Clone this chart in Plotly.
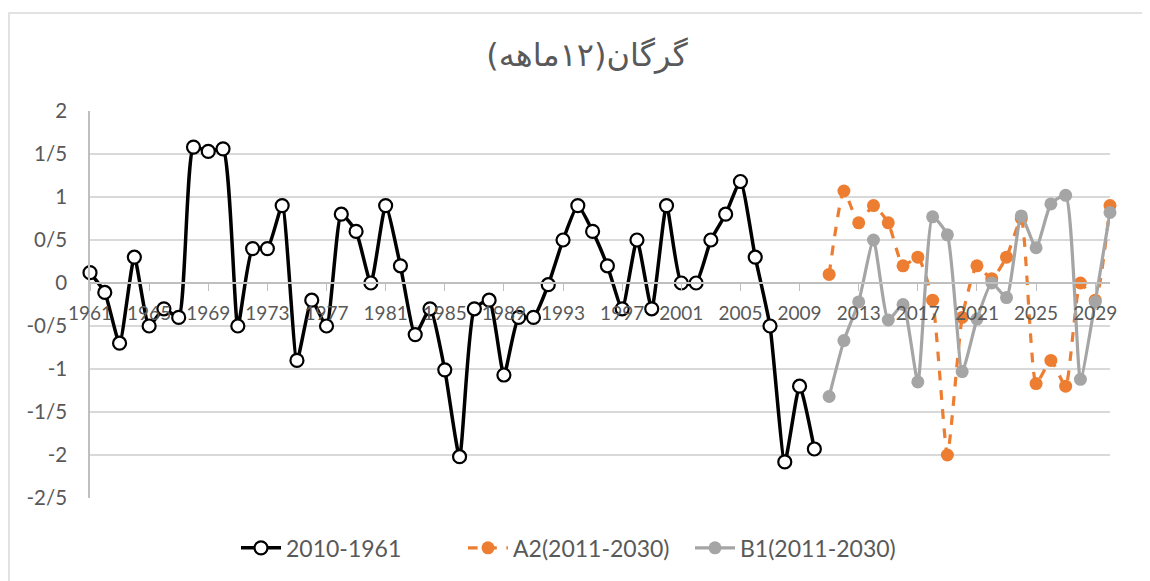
import plotly.graph_objects as go

# ---- data ----
years_obs = list(range(1961, 2011))
obs_vals = [0.12, -0.11, -0.7, 0.3, -0.5, -0.3, -0.4, 1.58, 1.53, 1.56,
            -0.5, 0.4, 0.4, 0.9, -0.9, -0.2, -0.5, 0.8, 0.6, 0.0,
            0.9, 0.2, -0.6, -0.3, -1.01, -2.02, -0.3, -0.2, -1.07, -0.4,
            -0.4, -0.02, 0.5, 0.9, 0.6, 0.2, -0.3, 0.5, -0.3, 0.9,
            0.0, 0.0, 0.5, 0.8, 1.18, 0.3, -0.5, -2.08, -1.2, -1.93]

years_fut = list(range(2011, 2031))
a2_vals = [0.1, 1.07, 0.7, 0.9, 0.7, 0.2, 0.3, -0.2, -2.0, -0.4,
           0.2, 0.05, 0.3, 0.75, -1.17, -0.9, -1.2, 0.0, -0.2, 0.9]
b1_vals = [-1.32, -0.67, -0.22, 0.5, -0.43, -0.25, -1.15, 0.77, 0.56, -1.03,
           -0.42, 0.0, -0.17, 0.78, 0.41, 0.92, 1.02, -1.12, -0.22, 0.82]

series_names = ["2010-1961", "A2(2011-2030)", "B1(2011-2030)"]
title_text = "گرگان(۱۲ماهه)\u200f"

y_tickvals = [-2.5, -2, -1.5, -1, -0.5, 0, 0.5, 1, 1.5, 2]
y_ticktext = ["-2/5", "-2", "-1/5", "-1", "-0/5", "0", "0/5", "1", "1/5", "2"]

FONT = "Lato, 'Liberation Sans', sans-serif"
TXT = "#595959"

fig = go.Figure()
fig.add_trace(go.Scatter(
    x=years_obs, y=obs_vals, name=series_names[0], mode="lines+markers",
    line=dict(color="black", width=3.5, shape="spline", smoothing=0.5),
    marker=dict(size=13, color="white", line=dict(color="black", width=2.2)),
    cliponaxis=False))
fig.add_trace(go.Scatter(
    x=years_fut, y=a2_vals, name=series_names[1], mode="lines+markers",
    line=dict(color="#ED7D31", width=3.2, dash="dash", shape="spline", smoothing=0.5),
    marker=dict(size=13, color="#ED7D31", line=dict(color="#ED7D31", width=0)),
    cliponaxis=False))
fig.add_trace(go.Scatter(
    x=years_fut, y=b1_vals, name=series_names[2], mode="lines+markers",
    line=dict(color="#A5A5A5", width=3.2, shape="spline", smoothing=0.5),
    marker=dict(size=13, color="#A5A5A5", line=dict(color="#A5A5A5", width=0)),
    cliponaxis=False))

zero_pos = (0 - (-2.5)) / 4.5

# page is offset by 8px body margin; figure is 1142x573
fig.update_layout(
    width=1142, height=573,
    margin=dict(l=82, r=40, t=103, b=83, autoexpand=False),
    paper_bgcolor="white", plot_bgcolor="white",
    font=dict(family=FONT, color=TXT, size=18),
    title=dict(text=title_text, x=579 / 1142, xanchor="center",
               y=1 - 47 / 573, yanchor="middle",
               font=dict(family="'DejaVu Sans', sans-serif", size=32, color=TXT)),
    showlegend=True,
    legend=dict(orientation="h", x=(232 - 82 - 4) / 1020, xanchor="left",
                y=-0.129, yanchor="middle",
                font=dict(family=FONT, size=23, color=TXT),
                itemwidth=40, tracegroupgap=0,
                entrywidth=172, entrywidthmode="pixels"),
    xaxis=dict(range=[1961, 2030], tick0=1961, dtick=4, tickmode="linear",
               anchor="free", position=zero_pos, automargin=False,
               showgrid=False, zeroline=False,
               showline=True, linecolor="#BFBFBF", linewidth=1.5,
               ticks="outside", ticklen=7, tickcolor="#BFBFBF", tickwidth=1.3,
               ticklabelstandoff=6,
               tickfont=dict(family=FONT, size=19, color=TXT)),
    yaxis=dict(range=[-2.5, 2], tickmode="array", tickvals=y_tickvals,
               ticktext=y_ticktext, showgrid=True, gridcolor="#D9D9D9",
               gridwidth=1.5, zeroline=False, automargin=False,
               showline=True, linecolor="#BFBFBF", linewidth=1.5,
               ticks="", ticklabelstandoff=17,
               tickfont=dict(family=FONT, size=20.5, color=TXT)),
    shapes=[dict(type="rect", xref="paper", yref="paper",
                 x0=(9 - 90) / 1020, x1=(1170 - 90) / 1020,
                 y0=(498 - 600) / 387, y1=(498 - 13) / 387,
                 line=dict(color="#D9D9D9", width=1.5), layer="below")],
)

fig.write_html("out.html")
